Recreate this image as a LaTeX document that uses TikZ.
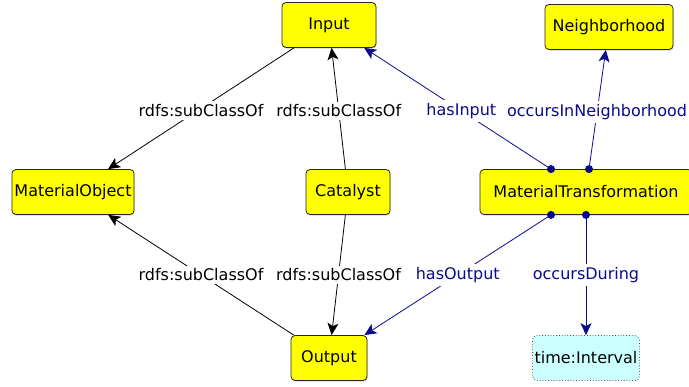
\documentclass[tikz,border=0pt]{standalone}
\usepackage{fontspec}
\setmainfont{DejaVu Sans}
\usetikzlibrary{arrows.meta,positioning,shadows}
\definecolor{owlyellow}{HTML}{FFFF00}
\definecolor{owlnavy}{HTML}{0A0A8C}
\definecolor{owlcyan}{HTML}{CCFFFF}
\tikzset{
  >={Stealth[length=12pt,width=11pt,inset=3pt]},
  % klasser
  cls/.style={draw=black!85,fill=owlyellow,rounded corners=4pt,line width=0.8pt,
              minimum height=45pt,inner sep=2pt,
              drop shadow={shadow xshift=0.6pt,shadow yshift=-1.2pt,opacity=0.35}},
  dtype/.style={draw=black!70,fill=owlcyan,rounded corners=4pt,line width=0.8pt,
                dotted,minimum height=45pt,inner sep=2pt},
  % kanter
  sub/.style={->,draw=black,line width=0.8pt},
  prop/.style={->,draw=owlnavy,line width=0.8pt},
  lbl/.style={fill=white,text=black,inner sep=3pt},
  plbl/.style={fill=white,text=owlnavy,inner sep=3pt},
  dot/.style={circle,fill=owlnavy,inner sep=0pt,minimum size=8pt},
}
\begin{document}
\begin{tikzpicture}[x=1pt,y=-1pt,font=\fontsize{16}{19}\selectfont]
  \useasboundingbox (0,0) rectangle (689,387);
  \node[cls,minimum width=94pt] (input) at (329,25) {Input};
  \node[cls,minimum width=128pt] (nbh) at (609,27) {Neighborhood};
  \node[cls,minimum width=122pt] (mobj) at (73,192) {MaterialObject};
  \node[cls,minimum width=84pt] (cat) at (348,192) {Catalyst};
  \node[cls,minimum width=212pt] (mt) at (586,192) {MaterialTransformation};
  \node[cls,minimum width=76pt] (out) at (329,358) {Output};
  \node[dtype,minimum width=106pt] (ival) at (586,358) {time:Interval};
  % ankarpunkter på MaterialTransformation
  \coordinate (mtA) at ([xshift=-35pt]mt.north);
  \coordinate (mtB) at ([xshift=3pt]mt.north);
  \coordinate (mtC) at ([xshift=-35pt]mt.south);
  \coordinate (mtD) at (mt.south);
  % rdfs:subClassOf
  \draw[sub] (input) -- node[lbl,yshift=-2pt] {rdfs:subClassOf} (mobj);
  \draw[sub] (cat) -- node[lbl,pos=0.48] {rdfs:subClassOf} (input);
  \draw[sub] (out) -- node[lbl] {rdfs:subClassOf} (mobj);
  \draw[sub] (cat) -- node[lbl] {rdfs:subClassOf} (out);
  % egenskaper
  \draw[prop] (mtA) -- node[plbl,pos=0.48] {hasInput} (input);
  \draw[prop] (mtB) -- node[plbl,pos=0.48] {occursInNeighborhood} (nbh);
  \draw[prop] (mtC) -- node[plbl] {hasOutput} (out);
  \draw[prop] (mtD) -- node[plbl] {occursDuring} (ival);
  \foreach \c in {mtA,mtB,mtC,mtD} \node[dot] at (\c) {};
\end{tikzpicture}
\end{document}
